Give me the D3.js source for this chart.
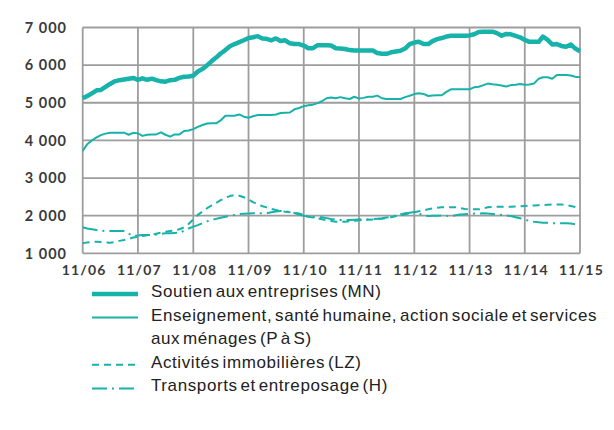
<!DOCTYPE html>
<html>
<head>
<meta charset="utf-8">
<script src="https://cdn.jsdelivr.net/npm/d3@7/dist/d3.min.js"></script>
<style>
  html, body { margin: 0; padding: 0; background: #fff; }
  svg { display: block; }
  .tick-y text, .tick-x text { font-family: Lato, "Open Sans", sans-serif; font-weight: 700; fill: #3a3a3a; }
  .legend text { font-family: "Liberation Sans", Arial, sans-serif; fill: #222; }
</style>
</head>
<body>
<svg id="chart" width="614" height="430"></svg>
<script>
// Monthly series, November 2006 to November 2015 (109 months)
const startMonth = new Date(2006, 10, 1);

const soutien = [
  5120, 5180, 5250, 5330, 5340, 5420, 5500, 5570, 5600, 5620, 5640, 5660,
  5610, 5650, 5610, 5640, 5600, 5570, 5560, 5600, 5610, 5660, 5690, 5700,
  5720, 5830, 5900, 6000, 6100, 6200, 6310, 6400, 6500, 6560, 6610, 6660,
  6720, 6740, 6770, 6710, 6700, 6660, 6710, 6640, 6660, 6580, 6560, 6560,
  6520, 6450, 6450, 6530, 6530, 6530, 6520, 6450, 6440, 6430, 6400, 6390,
  6390, 6390, 6390, 6390, 6320, 6300, 6300, 6340, 6360, 6380, 6440, 6560,
  6600, 6620, 6560, 6560, 6640, 6690, 6720, 6760, 6780, 6780, 6780, 6780,
  6790, 6820, 6880, 6890, 6890, 6890, 6850, 6780, 6830, 6820, 6780, 6740,
  6670, 6620, 6620, 6620, 6760, 6670, 6550, 6560, 6510, 6490, 6550, 6440,
  6370
];

const enseignement = [
  3720, 3900, 4000, 4080, 4140, 4180, 4205, 4205, 4205, 4205, 4150, 4200,
  4190, 4120, 4150, 4160, 4160, 4215, 4150, 4100, 4160, 4160, 4250, 4265,
  4300, 4360, 4410, 4450, 4454, 4454, 4530, 4657, 4657, 4657, 4690, 4630,
  4600, 4640, 4675, 4675, 4675, 4675, 4690, 4728, 4735, 4740, 4826, 4860,
  4910, 4935, 4950, 4990, 5040, 5120, 5140, 5120, 5150, 5120, 5100, 5160,
  5110, 5130, 5160, 5160, 5190, 5120, 5100, 5100, 5100, 5100, 5150, 5188,
  5230, 5250, 5235, 5180, 5190, 5200, 5200, 5290, 5357, 5357, 5357, 5357,
  5360, 5410, 5427, 5470, 5510, 5490, 5480, 5460, 5430, 5470, 5480, 5500,
  5480, 5485, 5510, 5640, 5676, 5676, 5640, 5738, 5738, 5738, 5725, 5693,
  5676
];

const immobilier = [
  1265, 1290, 1300, 1308, 1300, 1285, 1282, 1300, 1330, 1352, 1380, 1420,
  1440, 1460, 1480, 1490, 1520, 1550, 1570, 1590, 1610, 1640, 1690, 1780,
  1900, 2020, 2110, 2200, 2270, 2340, 2410, 2480, 2520, 2549, 2530, 2490,
  2430, 2360, 2300, 2250, 2220, 2180, 2150, 2130, 2105, 2090, 2075, 2060,
  2020, 1970, 1950, 1930, 1905, 1880, 1860, 1840, 1832, 1840, 1850, 1860,
  1875, 1885, 1890, 1900, 1905, 1920, 1940, 1960, 1990, 2010, 2040, 2062,
  2090, 2115, 2140, 2168, 2190, 2210, 2222, 2222, 2222, 2222, 2200, 2180,
  2168, 2168, 2168, 2190, 2222, 2230, 2235, 2240, 2240, 2240, 2245, 2250,
  2257, 2265, 2270, 2280, 2283, 2290, 2295, 2300, 2300, 2280, 2257, 2230,
  2180
];

const transports = [
  1690, 1660, 1640, 1618, 1600, 1590, 1590, 1590, 1590, 1590, 1520, 1459,
  1470, 1485, 1485, 1485, 1500, 1515, 1530, 1535, 1540, 1547, 1600, 1660,
  1710, 1750, 1800, 1850, 1885, 1915, 1945, 1971, 1995, 2020, 2044, 2050,
  2058, 2062, 2062, 2062, 2062, 2090, 2110, 2125, 2110, 2105, 2070, 2030,
  2000, 1975, 1965, 1960, 1956, 1935, 1910, 1895, 1885, 1885, 1885, 1890,
  1895, 1900, 1905, 1910, 1920, 1929, 1950, 1965, 1990, 2030, 2062, 2080,
  2100, 2060, 2000, 1991, 1995, 2000, 2005, 1995, 1991, 2010, 2030, 2040,
  2045, 2055, 2060, 2062, 2055, 2045, 2035, 2020, 2005, 1991, 1960, 1930,
  1900, 1860, 1840, 1825, 1814, 1810, 1800, 1796, 1796, 1796, 1790, 1770,
  1740
];

const yTicks = [1000, 2000, 3000, 4000, 5000, 6000, 7000];
const xTickLabels = ["11/06", "11/07", "11/08", "11/09", "11/10", "11/11", "11/12", "11/13", "11/14", "11/15"];

const seriesNames = [
  "Soutien aux entreprises (MN)",
  "Enseignement, santé humaine, action sociale et services|aux ménages (P à S)",
  "Activités immobilières (LZ)",
  "Transports et entreposage (H)"
];

// ---- layout & styles ----
const teal = "#17b2aa";
const gridColor = "#9d9d9d";
const styles = [
  { width: 4.5, dash: null },
  { width: 2, dash: null },
  { width: 2, dash: "7,5" },
  { width: 2, dash: "15,5,2,5" }
];

const margin = { left: 82.7, right: 34, top: 27.5, bottom: 176.7 };
const W = 614, H = 430;
const svg = d3.select("#chart");

const dates = soutien.map((_, i) => d3.timeMonth.offset(startMonth, i));
const x = d3.scaleTime()
  .domain([dates[0], dates[dates.length - 1]])
  .range([margin.left, W - margin.right]);
const y = d3.scaleLinear()
  .domain([1000, 7000])
  .range([H - margin.bottom, margin.top]);

const xTickDates = xTickLabels.map((_, i) => d3.timeMonth.offset(startMonth, 12 * i));

// grid
const grid = svg.append("g");
grid.selectAll("line.h").data(yTicks).join("line")
  .attr("x1", margin.left).attr("x2", W - margin.right)
  .attr("y1", d => y(d)).attr("y2", d => y(d))
  .attr("stroke", gridColor).attr("stroke-width", 1.8);
grid.selectAll("line.v").data(xTickDates).join("line")
  .attr("x1", d => x(d)).attr("x2", d => x(d))
  .attr("y1", y(7000)).attr("y2", y(1000))
  .attr("stroke", gridColor).attr("stroke-width", 1.8);

// y labels
svg.append("g").attr("class", "tick-y")
  .selectAll("text").data(yTicks).join("text")
  .attr("x", 67).attr("y", d => y(d)).attr("dy", "0.36em")
  .attr("text-anchor", "end")
  .attr("font-size", 14.5).attr("letter-spacing", 1)
  .text(d => d3.format(",")(d).replace(",", " "));

// x labels
svg.append("g").attr("class", "tick-x")
  .selectAll("text").data(xTickDates).join("text")
  .attr("x", (d) => x(d) + 1.5).attr("y", y(1000) + 22)
  .attr("text-anchor", "middle")
  .attr("font-size", 14).attr("letter-spacing", 1.2)
  .text((d, i) => xTickLabels[i]);

// lines
const allSeries = [soutien, enseignement, immobilier, transports];
const line = d3.line()
  .x((d, i) => x(dates[i]))
  .y(d => y(d));

const plot = svg.append("g");
// thin lines first, the thick one on top
[3, 2, 1, 0].forEach(k => {
  plot.append("path")
    .datum(allSeries[k])
    .attr("fill", "none")
    .attr("stroke", teal)
    .attr("stroke-width", styles[k].width)
    .attr("stroke-dasharray", styles[k].dash)
    .attr("stroke-linejoin", "round")
    .attr("d", line);
});

// legend
const legend = svg.append("g").attr("class", "legend");
const rowH = 23.6;
let row = 0;
seriesNames.forEach((name, k) => {
  const parts = name.split("|");
  const yy = 291 + row * rowH;
  legend.append("line")
    .attr("x1", 92).attr("x2", 138)
    .attr("y1", yy + 3).attr("y2", yy + 3)
    .attr("stroke", teal)
    .attr("stroke-width", styles[k].width)
    .attr("stroke-dasharray", styles[k].dash);
  parts.forEach((p, j) => {
    legend.append("text")
      .attr("x", 151).attr("y", yy + j * rowH).attr("dy", "0.35em")
      .attr("font-size", 17)
      .attr("letter-spacing", 0.6)
      .attr("word-spacing", -2.5)
      .text(p);
  });
  row += parts.length;
});
</script>
</body>
</html>
